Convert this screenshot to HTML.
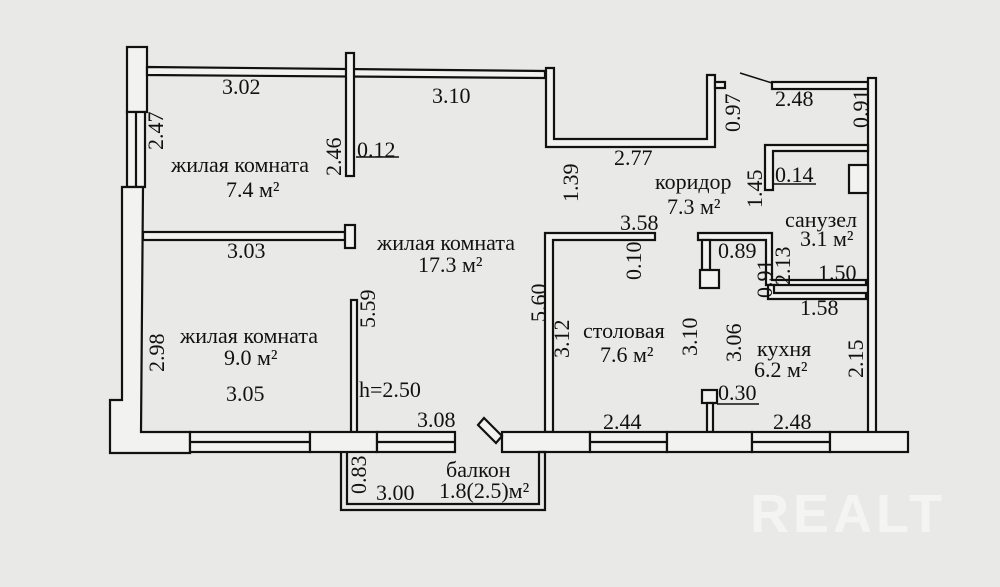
<!DOCTYPE html>
<html><head><meta charset="utf-8"><style>
html,body{margin:0;padding:0;background:#e9e9e7;}
svg{display:block}
text{font-family:"Liberation Serif",serif;font-size:22px;fill:#111;}
</style></head><body>
<svg width="1000" height="587" viewBox="0 0 1000 587" xmlns="http://www.w3.org/2000/svg">
<rect width="1000" height="587" fill="#e9e9e7"/>
<g fill="#f2f2f0" stroke="#111" stroke-width="2.2">
<rect x="127" y="47" width="20" height="65"/>
<rect x="127" y="112" width="18" height="75"/>
<line x1="136" y1="112" x2="136" y2="187"/>
<path d="M122 187 L143 187 L141 432 L190 432 L190 453 L110 453 L110 400 L122 400 Z"/>
<polygon points="147,67 545,71 545,78 147,75"/>
<rect x="346" y="53" width="8" height="123"/>
<path d="M546 68 L554 68 L554 139 L707 139 L707 75 L715 75 L715 147 L546 147 Z"/>
<rect x="715" y="82" width="10" height="6"/>
<rect x="772" y="82" width="96" height="7"/>
<rect x="868" y="78" width="8" height="355"/>
<path d="M765 145 L868 145 L868 151 L773 151 L773 190 L765 190 Z"/>
<rect x="849" y="165" width="19" height="28"/>
<path d="M698 233 L772 233 L772 280 L866 280 L866 285 L766 285 L766 240 L698 240 Z"/>
<path d="M768 285 L774 285 L774 293 L866 293 L866 299 L768 299 Z"/>
<rect x="702" y="240" width="8" height="30"/>
<rect x="700" y="270" width="19" height="18"/>
<path d="M545 233 L655 233 L655 240 L553 240 L553 432 L545 432 Z"/>
<rect x="143" y="232" width="202" height="8"/>
<rect x="345" y="225" width="10" height="23"/>
<rect x="351" y="300" width="6" height="132"/>
<rect x="702" y="390" width="15" height="13"/>
<rect x="707" y="403" width="6" height="29"/>
<rect x="190" y="432" width="120" height="20"/>
<line x1="190" y1="442" x2="310" y2="442"/>
<rect x="310" y="432" width="67" height="20"/>
<rect x="377" y="432" width="78" height="20"/>
<line x1="377" y1="442" x2="455" y2="442"/>
<rect x="502" y="432" width="88" height="20"/>
<rect x="590" y="432" width="77" height="20"/>
<line x1="590" y1="442" x2="667" y2="442"/>
<rect x="667" y="432" width="85" height="20"/>
<rect x="752" y="432" width="78" height="20"/>
<line x1="752" y1="442" x2="830" y2="442"/>
<rect x="830" y="432" width="78" height="20"/>
<polygon points="478,425 484,418 502,436 496,443"/>
<path d="M341 452 L341 510 L545 510 L545 452 L539 452 L539 504 L347 504 L347 452" fill="none"/>
</g>
<line x1="740" y1="73" x2="772" y2="83" stroke="#111" stroke-width="1.5"/>
<line x1="356" y1="157" x2="399" y2="157" stroke="#111" stroke-width="1.5"/>
<line x1="773" y1="184" x2="816" y2="184" stroke="#111" stroke-width="1.5"/>
<line x1="717" y1="404" x2="759" y2="404" stroke="#111" stroke-width="1.5"/>
<g>
<text x="222" y="94">3.02</text>
<text x="432" y="103">3.10</text>
<text x="171" y="172">жилая комната</text>
<text x="226" y="197">7.4 м²</text>
<text x="357" y="157">0.12</text>
<text x="227" y="258">3.03</text>
<text x="377" y="250">жилая комната</text>
<text x="418" y="272">17.3 м²</text>
<text x="180" y="343">жилая комната</text>
<text x="224" y="365">9.0 м²</text>
<text x="226" y="401">3.05</text>
<text x="359" y="397">h=2.50</text>
<text x="417" y="427">3.08</text>
<text x="446" y="477">балкон</text>
<text x="376" y="500">3.00</text>
<text x="439" y="498">1.8(2.5)м²</text>
<text x="614" y="165">2.77</text>
<text x="655" y="189">коридор</text>
<text x="667" y="214">7.3 м²</text>
<text x="775" y="182">0.14</text>
<text x="620" y="230">3.58</text>
<text x="775" y="106">2.48</text>
<text x="785" y="227">санузел</text>
<text x="800" y="246">3.1 м²</text>
<text x="718" y="258">0.89</text>
<text x="818" y="280">1.50</text>
<text x="800" y="315">1.58</text>
<text x="583" y="338">столовая</text>
<text x="600" y="362">7.6 м²</text>
<text x="757" y="356">кухня</text>
<text x="754" y="377">6.2 м²</text>
<text x="718" y="400">0.30</text>
<text x="603" y="429">2.44</text>
<text x="773" y="429">2.48</text>
<text transform="translate(163,150) rotate(-90)">2.47</text>
<text transform="translate(341,176) rotate(-90)">2.46</text>
<text transform="translate(578,202) rotate(-90)">1.39</text>
<text transform="translate(740,132) rotate(-90)">0.97</text>
<text transform="translate(868,128) rotate(-90)">0.91</text>
<text transform="translate(762,208) rotate(-90)">1.45</text>
<text transform="translate(641,280) rotate(-90)">0.10</text>
<text transform="translate(790,285) rotate(-90)">2.13</text>
<text transform="translate(772,298) rotate(-90)">0.91</text>
<text transform="translate(546,322) rotate(-90)">5.60</text>
<text transform="translate(375,328) rotate(-90)">5.59</text>
<text transform="translate(164,372) rotate(-90)">2.98</text>
<text transform="translate(569,358) rotate(-90)">3.12</text>
<text transform="translate(697,356) rotate(-90)">3.10</text>
<text transform="translate(741,362) rotate(-90)">3.06</text>
<text transform="translate(863,378) rotate(-90)">2.15</text>
<text transform="translate(366,494) rotate(-90)">0.83</text>
</g>
<text x="750" y="532" style="font-family:'Liberation Sans',sans-serif;font-size:54px;font-weight:bold;fill:#f4f4f3;letter-spacing:4px">REALT</text>
</svg>
</body></html>
